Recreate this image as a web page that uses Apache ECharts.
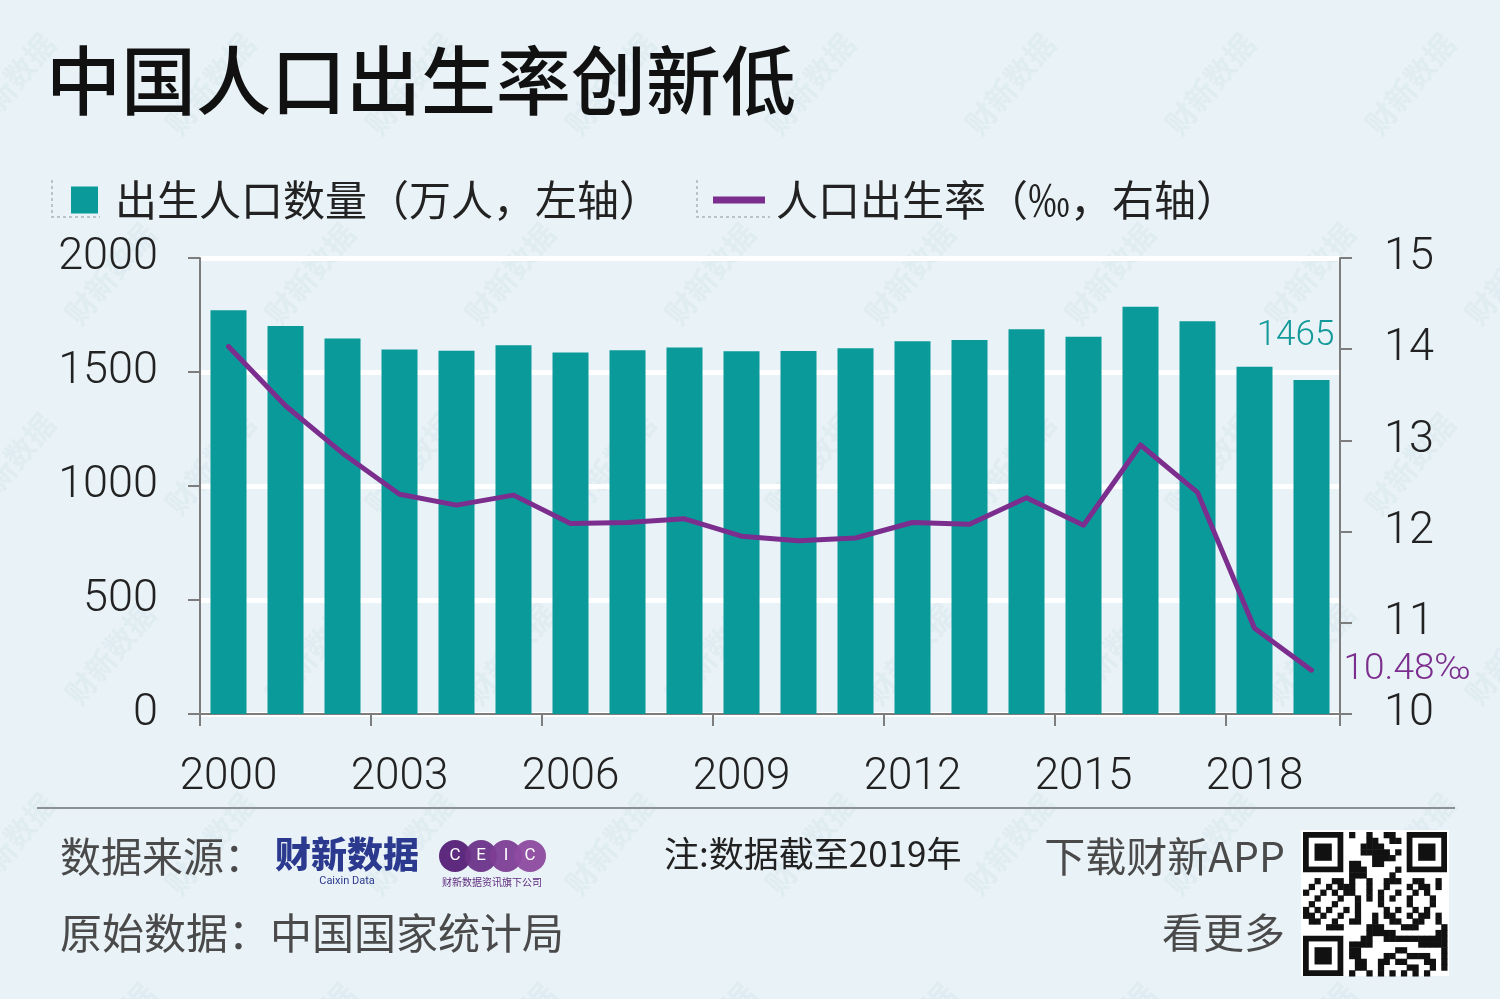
<!DOCTYPE html>
<html>
<head>
<meta charset="utf-8">
<script src="https://cdn.jsdelivr.net/npm/echarts@6/dist/echarts.min.js"></script>
<style>
html,body{margin:0;padding:0;background:#e9f2f6;}
#c{width:1500px;height:999px;}
</style>
</head>
<body>
<div id="c"></div>
<script>
const years = ['2000','2001','2002','2003','2004','2005','2006','2007','2008','2009','2010','2011','2012','2013','2014','2015','2016','2017','2018','2019'];
const births = [1771,1702,1647,1599,1593,1617,1585,1595,1608,1591,1592,1604,1635,1640,1687,1655,1786,1723,1523,1465];
const birthRate = [14.03,13.38,12.86,12.41,12.29,12.40,12.09,12.10,12.14,11.95,11.90,11.93,12.10,12.08,12.37,12.07,12.95,12.43,10.94,10.48];
const leftTicks = [0,500,1000,1500,2000];
const rightTicks = [10,11,12,13,14,15];

const CJK = '"Noto Sans CJK SC", sans-serif';
const NUM = 'Roboto, "Noto Sans CJK SC", sans-serif';
const TEAL = '#0a9a9a';
const PURPLE = '#7b2e8e';
const AXIS = '#7d7d7d';

const lastIdx = births.length - 1;

// decorative QR-like pattern
function qrElements(x0, y0, size, n) {
  const m = size / n;
  const els = [];
  const inFinder = (i, j) => (i < 8 && j < 8) || (i < 8 && j >= n - 8) || (i >= n - 8 && j < 8);
  for (let i = 0; i < n; i++) {
    for (let j = 0; j < n; j++) {
      if (inFinder(i, j)) continue;
      const v = (i * 7 + j * 11 + i * j * 3 + ((i ^ j) * 5)) % 7;
      if (v < 3) {
        els.push({type:'rect', shape:{x:x0 + j*m, y:y0 + i*m, width:m+0.5, height:m+0.5}, style:{fill:'#111'}});
      }
    }
  }
  const finder = (fx, fy) => {
    els.push({type:'rect', shape:{x:fx, y:fy, width:7*m, height:7*m}, style:{fill:'#111'}});
    els.push({type:'rect', shape:{x:fx+m, y:fy+m, width:5*m, height:5*m}, style:{fill:'#fff'}});
    els.push({type:'rect', shape:{x:fx+2*m, y:fy+2*m, width:3*m, height:3*m}, style:{fill:'#111'}});
  };
  finder(x0, y0);
  finder(x0 + (n-7)*m, y0);
  finder(x0, y0 + (n-7)*m);
  return els;
}

// faint watermarks
function watermarks() {
  const els = [];
  for (let r = -1; r < 6; r++) {
    for (let c = 0; c < 8; c++) {
      const x = c * 200 + (r % 2) * 100 - 40;
      const y = r * 190 + 120;
      els.push({
        type:'text', x:x, y:y, rotation: Math.PI * 50 / 180, silent:true, z:-10,
        style:{text:'财新数据', fill:'rgba(175,205,225,0.16)', font:'bold 30px ' + CJK}
      });
    }
  }
  return els;
}

const chart = echarts.init(document.getElementById('c'), null, {renderer:'canvas'});
const option = {
  backgroundColor:'#e9f2f6',
  animation:false,
  title:{
    text:'中国人口出生率创新低', left:41, top:38,
    textStyle:{fontFamily:CJK, fontSize:75, fontWeight:500, color:'#111'}
  },
  legend:[
    {
      data:['出生人口数量（万人，左轴）'], left:66, top:174, icon:'rect',
      itemWidth:27, itemHeight:27,
      textStyle:{fontFamily:CJK, fontSize:42, color:'#222', padding:[0,0,0,12]}
    },
    {
      data:['人口出生率（‰，右轴）'], left:708, top:174, icon:'rect',
      itemWidth:52, itemHeight:7,
      textStyle:{fontFamily:CJK, fontSize:42, color:'#222', padding:[0,0,0,6]}
    }
  ],
  grid:{left:200, right:160, top:258, bottom:285, containLabel:false},
  xAxis:{
    type:'category', data:years, boundaryGap:true,
    axisLine:{show:true, lineStyle:{color:AXIS, width:2}},
    axisTick:{show:true, interval:2, length:12, lineStyle:{color:AXIS, width:2}},
    axisLabel:{interval:2, margin:42, fontFamily:NUM, fontSize:44, color:'#222', fontWeight:300}
  },
  yAxis:[
    {
      type:'value', min:0, max:2000, interval:500, position:'left',
      axisLine:{show:true, lineStyle:{color:AXIS, width:2}},
      axisTick:{show:true, length:12, lineStyle:{color:AXIS, width:2}},
      splitLine:{show:true, lineStyle:{color:'#ffffff', width:5}},
      axisLabel:{margin:42, fontFamily:NUM, fontSize:45, color:'#222', fontWeight:300,
        formatter:v => String(v)}
    },
    {
      type:'value', min:10, max:15, interval:1, position:'right',
      axisLine:{show:true, lineStyle:{color:AXIS, width:2}},
      axisTick:{show:true, length:12, lineStyle:{color:AXIS, width:2}},
      splitLine:{show:false},
      axisLabel:{margin:44, fontFamily:NUM, fontSize:45, color:'#222', fontWeight:300,
        formatter:v => String(v)}
    }
  ],
  series:[
    {
      name:'出生人口数量（万人，左轴）', type:'bar', yAxisIndex:0, barWidth:36,
      itemStyle:{color:TEAL},
      data: births.map((v,i) => i === lastIdx ? {
        value:v,
        label:{show:true, position:'top', distance:4, offset:[-16,-22], formatter:'{c}',
          fontFamily:NUM, fontSize:35, color:'#139999', fontWeight:300}
      } : v)
    },
    {
      name:'人口出生率（‰，右轴）', type:'line', yAxisIndex:1, symbol:'none', showSymbol:false,
      lineStyle:{color:PURPLE, width:5, cap:'round', join:'round'},
      itemStyle:{color:PURPLE},
      z:5,
      data: birthRate,
      endLabel:{show:true, distance:32, formatter:p => p.value + '‰',
        fontFamily:NUM, fontSize:37, color:PURPLE, fontWeight:300}
    }
  ],
  graphic:[
    {type:'group', children:watermarks(), z:-10, silent:true},
    // legend decorative dotted frames
    {type:'polyline', shape:{points:[[52,180],[52,217],[100,217]]}, style:{stroke:'#aab4ba', lineWidth:1.5, lineDash:[3,3], fill:null}},
    {type:'polyline', shape:{points:[[697,180],[697,217],[770,217]]}, style:{stroke:'#aab4ba', lineWidth:1.5, lineDash:[3,3], fill:null}},
    // separator
    {type:'line', shape:{x1:37, y1:808, x2:1455, y2:808}, style:{stroke:'#8a9094', lineWidth:2}},
    // footer texts
    {type:'text', x:60, y:836, style:{text:'数据来源：', fill:'#4a4a4a', font:'41px ' + CJK}},
    {type:'text', x:60, y:912, style:{text:'原始数据：中国国家统计局', fill:'#4a4a4a', font:'42px ' + CJK}},
    {type:'text', x:664, y:836, style:{text:'注:数据截至2019年', fill:'#222', font:'35px ' + CJK}},
    {type:'text', x:1285, y:836, style:{text:'下载财新APP', fill:'#4a4a4a', font:'41px ' + CJK, align:'right'}},
    {type:'text', x:1285, y:912, style:{text:'看更多', fill:'#4a4a4a', font:'41px ' + CJK, align:'right'}},
    // Caixin Data logo
    {type:'text', x:275, y:836, style:{text:'财新数据', fill:'#2b3a8f', font:'900 36px ' + CJK}},
    {type:'text', x:347, y:876, style:{text:'Caixin Data', fill:'#2b3a8f', font:'11px ' + NUM, align:'center'}},
    // CEIC logo
    {type:'circle', shape:{cx:455, cy:856, r:16}, style:{fill:'#5e2a7e'}},
    {type:'circle', shape:{cx:481, cy:856, r:16}, style:{fill:'#6c3388', opacity:0.95}},
    {type:'circle', shape:{cx:506, cy:856, r:16}, style:{fill:'#7d3e94', opacity:0.95}},
    {type:'circle', shape:{cx:530, cy:856, r:16}, style:{fill:'#8e4aa0', opacity:0.95}},
    {type:'text', x:455, y:856, style:{text:'C', fill:'#fff', font:'17px ' + NUM, align:'center', verticalAlign:'middle'}},
    {type:'text', x:481, y:856, style:{text:'E', fill:'#fff', font:'17px ' + NUM, align:'center', verticalAlign:'middle'}},
    {type:'text', x:506, y:856, style:{text:'I', fill:'#fff', font:'17px ' + NUM, align:'center', verticalAlign:'middle'}},
    {type:'text', x:530, y:856, style:{text:'C', fill:'#fff', font:'17px ' + NUM, align:'center', verticalAlign:'middle'}},
    {type:'text', x:492, y:877, style:{text:'财新数据资讯旗下公司', fill:'#5e2a7e', font:'10px ' + CJK, align:'center'}},
    // QR code
    {type:'rect', shape:{x:1301, y:830, width:148, height:146}, style:{fill:'#fff'}},
    {type:'group', children:qrElements(1303, 832, 144, 25)}
  ]
};
chart.setOption(option);
</script>
</body>
</html>
